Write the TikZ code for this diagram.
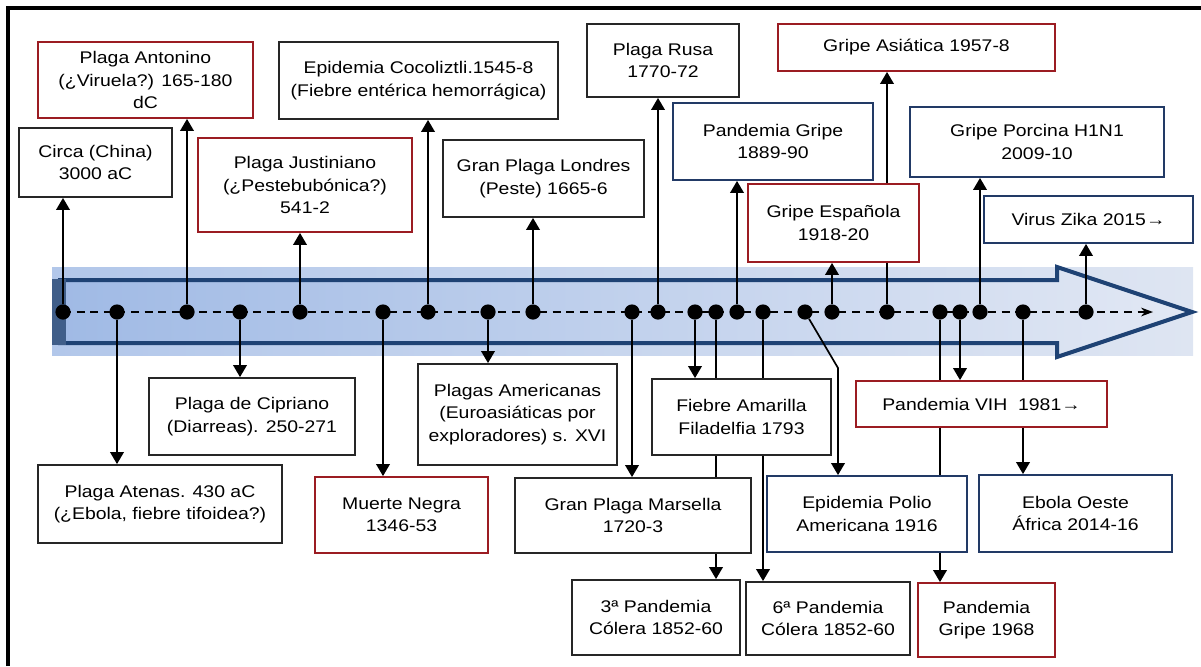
\documentclass[tikz,border=0pt]{standalone}
\usepackage{fontspec}
\setmainfont{Liberation Sans}[FakeStretch=1.15]
\usetikzlibrary{arrows.meta}
\definecolor{plaguered}{RGB}{155,28,34}
\definecolor{plagueblue}{RGB}{34,58,102}
\definecolor{plagueblack}{RGB}{38,38,38}
\definecolor{bandleft}{RGB}{178,199,234}
\definecolor{bandright}{RGB}{222,229,242}
\definecolor{arrowleft}{RGB}{160,186,229}
\definecolor{arrowright}{RGB}{226,232,244}
\definecolor{navy}{RGB}{30,66,116}

\begin{document}
\begin{tikzpicture}[x=0.025cm, y=-0.025cm, >={Triangle[length=0.3cm,width=0.34cm]}]
\tikzstyle{evt}=[draw, fill=white, line width=1.3pt, align=center, inner sep=0pt, font=\fontsize{12}{16}\selectfont]
\tikzstyle{evtblack}=[evt, draw=plagueblack]
\tikzstyle{evtred}=[evt, draw=plaguered]
\tikzstyle{evtblue}=[evt, draw=plagueblue]
\tikzstyle{hito}=[circle, fill=black, inner sep=0pt, minimum size=0.38cm]
\tikzstyle{conn}=[line width=1.2pt]

\useasboundingbox (0,0) rectangle (1201,666);
\draw[line width=2.4pt] (8,666) -- (8,8) -- (1201,8);

% timeline band
\fill[left color=bandleft, right color=bandright] (52,267) rectangle (1193,355);
\draw[navy, line width=0.1cm, miter limit=10, left color=arrowleft, right color=arrowright]
	(60,280) -- (1057,280) -- (1057,267) -- (1192,312) -- (1057,357) -- (1057,343) -- (60,343) -- cycle;
\fill[navy!85] (52,279) rectangle (66,345);

\coordinate (tStart) at (63,312);
\coordinate (tEnd) at (1153,312);
\draw[line width=1.1pt, dash pattern=on 0.2cm off 0.14cm, -{Stealth[length=0.3cm,width=0.22cm]}] (tStart) -- (tEnd);

% milestones
\node[hito] (dCirca) at (63,312) {};
\node[hito] (dAtenas) at (117,312) {};
\node[hito] (dAntonino) at (187,312) {};
\node[hito] (dCipriano) at (240,312) {};
\node[hito] (dJustiniano) at (300,312) {};
\node[hito] (dMuerte) at (383,312) {};
\node[hito] (dCocoliztli) at (428,312) {};
\node[hito] (dAmericanas) at (488,312) {};
\node[hito] (dLondres) at (533,312) {};
\node[hito] (dMarsella) at (632,312) {};
\node[hito] (dRusa) at (658,312) {};
\node[hito] (dFiebre) at (695,312) {};
\node[hito] (dTercera) at (716,312) {};
\node[hito] (dPGripe) at (737,312) {};
\node[hito] (dSexta) at (763,312) {};
\node[hito] (dPolio) at (805,312) {};
\node[hito] (dEspanola) at (832,312) {};
\node[hito] (dAsiatica) at (887,312) {};
\node[hito] (dVIHa) at (940,312) {};
\node[hito] (dVIHb) at (960,312) {};
\node[hito] (dPorcina) at (980,312) {};
\node[hito] (dEbola) at (1023,312) {};
\node[hito] (dZika) at (1086,312) {};

% boxes above
\node[evtblack, minimum width=3.825cm, minimum height=1.725cm] (Circa) at (95.5,162.5) {Circa (China)\\3000 aC};
\node[evtred, minimum width=5.375cm, minimum height=1.9cm] (Antonino) at (145.5,80) {Plaga Antonino\\(¿Viruela?) 165-180\\dC};
\node[evtred, minimum width=5.35cm, minimum height=2.35cm] (Justiniano) at (305,185) {Plaga Justiniano\\(¿Pestebubónica?)\\541-2};
\node[evtblack, minimum width=6.975cm, minimum height=1.925cm] (Cocoliztli) at (418.5,80.5) {Epidemia Cocoliztli.1545-8\\(Fiebre entérica hemorrágica)};
\node[evtblack, minimum width=5.025cm, minimum height=1.925cm] (Londres) at (543.5,178.5) {Gran Plaga Londres\\(Peste) 1665-6};
\node[evtblack, minimum width=3.8cm, minimum height=1.825cm] (Rusa) at (663,60.5) {Plaga Rusa\\1770-72};
\node[evtblue, minimum width=5cm, minimum height=1.925cm] (PGripe) at (773,141.5) {Pandemia Gripe\\1889-90};
\node[evtred, minimum width=4.275cm, minimum height=1.95cm] (Espanola) at (833.5,223) {Gripe Española\\1918-20};
\node[evtred, minimum width=6.925cm, minimum height=1.175cm] (Asiatica) at (916.5,47.5) {Gripe Asiática 1957-8};
\node[evtblue, minimum width=6.35cm, minimum height=1.75cm] (Porcina) at (1037,142) {Gripe Porcina H1N1\\2009-10};
\node[evtblue, minimum width=5.225cm, minimum height=1.175cm] (Zika) at (1088.5,219.5) {Virus Zika 2015→};

% boxes below
\node[evtblack, minimum width=6.1cm, minimum height=1.95cm] (Atenas) at (160,504) {Plaga Atenas. 430 aC\\(¿Ebola, fiebre tifoidea?)};
\node[evtblack, minimum width=5.15cm, minimum height=1.925cm] (Cipriano) at (252,416.5) {Plaga de Cipriano\\(Diarreas). 250-271};
\node[evtred, minimum width=4.325cm, minimum height=1.9cm] (Muerte) at (401.5,515) {Muerte Negra\\1346-53};
\node[evtblack, minimum width=4.975cm, minimum height=2.525cm] (Americanas) at (517.5,414.5) {Plagas Americanas\\(Euroasiáticas por\\exploradores) s. XVI};
\node[evtblack, minimum width=4.475cm, minimum height=1.9cm] (Fiebre) at (741.5,417) {Fiebre Amarilla\\Filadelfia 1793};
\node[evtblack, minimum width=5.9cm, minimum height=1.875cm] (Marsella) at (633,515.5) {Gran Plaga Marsella\\1720-3};
\node[evtblue, minimum width=5cm, minimum height=1.9cm] (Polio) at (867,514) {Epidemia Polio\\Americana 1916};
\node[evtred, minimum width=6.275cm, minimum height=1.15cm] (VIH) at (981.5,404) {Pandemia VIH\ \ 1981→};
\node[evtblue, minimum width=4.825cm, minimum height=1.925cm] (Ebola) at (1075.5,513.5) {Ebola Oeste\\África 2014-16};
\node[evtblack, minimum width=4.2cm, minimum height=1.875cm] (Tercera) at (656,617.5) {3ª Pandemia\\Cólera 1852-60};
\node[evtblack, minimum width=4.1cm, minimum height=1.825cm] (Sexta) at (828,618.5) {6ª Pandemia\\Cólera 1852-60};
\node[evtred, minimum width=3.425cm, minimum height=1.85cm] (Gripe68) at (986.5,620) {Pandemia\\Gripe 1968};

% connectors up
\draw[conn,->] (dCirca) -- (dCirca |- Circa.south);
\draw[conn,->] (dAntonino) -- (dAntonino |- Antonino.south);
\draw[conn,->] (dJustiniano) -- (dJustiniano |- Justiniano.south);
\draw[conn,->] (dCocoliztli) -- (dCocoliztli |- Cocoliztli.south);
\draw[conn,->] (dLondres) -- (dLondres |- Londres.south);
\draw[conn,->] (dRusa) -- (dRusa |- Rusa.south);
\draw[conn,->] (dPGripe) -- (dPGripe |- PGripe.south);
\draw[conn,->] (dEspanola) -- (dEspanola |- Espanola.south);
\draw[conn] (dAsiatica) -- (dAsiatica |- Espanola.south);
\draw[conn,->] (dAsiatica |- Espanola.north) -- (dAsiatica |- Asiatica.south);
\draw[conn,->] (dPorcina) -- (dPorcina |- Porcina.south);
\draw[conn,->] (dZika) -- (dZika |- Zika.south);

% connectors down
\draw[conn,->] (dAtenas) -- (dAtenas |- Atenas.north);
\draw[conn,->] (dCipriano) -- (dCipriano |- Cipriano.north);
\draw[conn,->] (dMuerte) -- (dMuerte |- Muerte.north);
\draw[conn,->] (dAmericanas) -- (dAmericanas |- Americanas.north);
\draw[conn,->] (dMarsella) -- (dMarsella |- Marsella.north);
\draw[conn,->] (dFiebre) -- (dFiebre |- Fiebre.north);
\draw[conn] (dTercera) -- (dTercera |- Fiebre.north);
\draw[conn] (dTercera |- Fiebre.south) -- (dTercera |- Marsella.north);
\draw[conn,->] (dTercera |- Marsella.south) -- (dTercera |- Tercera.north);
\draw[conn] (dSexta) -- (dSexta |- Fiebre.north);
\draw[conn,->] (dSexta |- Fiebre.south) -- (dSexta |- Sexta.north);
\coordinate (kPolio) at (838,368);
\draw[conn,->] (dPolio) -- (kPolio) -- (kPolio |- Polio.north);
\draw[conn] (dVIHa) -- (dVIHa |- VIH.north);
\draw[conn] (dVIHa |- VIH.south) -- (dVIHa |- Polio.north);
\draw[conn,->] (dVIHa |- Polio.south) -- (dVIHa |- Gripe68.north);
\draw[conn,->] (dVIHb) -- (dVIHb |- VIH.north);
\draw[conn] (dEbola) -- (dEbola |- VIH.north);
\draw[conn,->] (dEbola |- VIH.south) -- (dEbola |- Ebola.north);

\end{tikzpicture}
\end{document}
